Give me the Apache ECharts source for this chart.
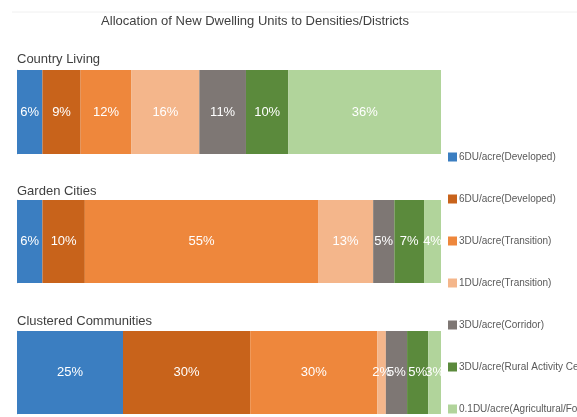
<!DOCTYPE html>
<html>
<head>
<meta charset="utf-8">
<script src="https://cdn.jsdelivr.net/npm/echarts@6/dist/echarts.min.js"></script>
<style>
  html, body { margin: 0; padding: 0; background: #ffffff; }
  #chart { width: 577px; height: 417px; }
</style>
</head>
<body>
<div id="chart"></div>
<script>
// Panels (one stacked 100% bar each)
const panelNames = ['Country Living', 'Garden Cities', 'Clustered Communities'];

// Density / district categories, in stacking order
const densityKeys = ['dev6a', 'dev6b', 'trans3', 'trans1', 'corr3', 'rural3', 'agri01'];
const densityLabels = [
  '6DU/acre(Developed)',
  '6DU/acre(Developed)',
  '3DU/acre(Transition)',
  '1DU/acre(Transition)',
  '3DU/acre(Corridor)',
  '3DU/acre(Rural Activity Center)',
  '0.1DU/acre(Agricultural/Forest)'
];
const densityColors = ['#3b7ec1', '#c8631b', '#ee873c', '#f4b68b', '#7e7774', '#5b8a3c', '#b1d49b'];

// Share of new dwelling units (%) per panel
const countryLiving = [6, 9, 12, 16, 11, 10, 36];
const gardenCities = [6, 10, 55, 13, 5, 7, 4];
const clusteredCommunities = [25, 30, 30, 2, 5, 5, 3];
const panelValues = [countryLiving, gardenCities, clusteredCommunities];

const FONT = "'Liberation Sans', Arial, sans-serif";

const gridBoxes = [
  { left: 17, width: 424, top: 70, height: 84 },
  { left: 17, width: 424, top: 200, height: 83 },
  { left: 17, width: 424, top: 331, height: 83 }
];
const panelTitleTops = [48, 180, 310];

const labelMap = {};
densityKeys.forEach((k, i) => { labelMap[k] = densityLabels[i]; });

const series = [];
panelValues.forEach((vals, p) => {
  densityKeys.forEach((key, i) => {
    series.push({
      type: 'bar',
      name: key,
      stack: 'panel' + p,
      xAxisIndex: p,
      yAxisIndex: p,
      barWidth: '100%',
      itemStyle: { color: densityColors[i] },
      label: {
        show: true,
        position: 'inside',
        formatter: '{c}%',
        color: '#ffffff',
        fontSize: 13,
        fontFamily: FONT
      },
      emphasis: { disabled: true },
      data: [vals[i]]
    });
  });
});

const chart = echarts.init(document.getElementById('chart'), null, { renderer: 'canvas' });
chart.setOption({
  animation: false,
  backgroundColor: '#ffffff',
  title: [
    {
      text: 'Allocation of New Dwelling Units to Densities/Districts',
      left: 250, top: 10, textAlign: 'center',
      textStyle: { fontSize: 13, fontWeight: 'normal', color: '#404040', fontFamily: FONT }
    }
  ].concat(panelNames.map((n, p) => ({
    text: n,
    left: 12, top: panelTitleTops[p],
    textStyle: { fontSize: 13, fontWeight: 'normal', color: '#404040', fontFamily: FONT }
  }))),
  legend: {
    orient: 'vertical',
    left: 443,
    top: 147,
    height: 320,
    itemWidth: 9,
    itemHeight: 9,
    itemGap: 32,
    icon: 'rect',
    selectedMode: false,
    data: densityKeys,
    formatter: name => labelMap[name],
    textStyle: { fontSize: 10, color: '#595959', fontFamily: FONT, padding: [0, 0, 0, -3] }
  },
  grid: gridBoxes.map(g => Object.assign({ containLabel: false }, g)),
  xAxis: gridBoxes.map((g, p) => ({
    type: 'value', gridIndex: p, min: 0, max: 100, show: false
  })),
  yAxis: gridBoxes.map((g, p) => ({
    type: 'category', gridIndex: p, data: [panelNames[p]],
    axisLine: { show: true, lineStyle: { color: '#d9d9d9' } },
    axisTick: { show: false },
    axisLabel: { show: false }
  })),
  graphic: [
    { type: 'line', shape: { x1: 12, y1: 12, x2: 577, y2: 12 }, style: { stroke: '#f0f0f0', lineWidth: 1 }, silent: true }
  ],
  series: series
});
</script>
</body>
</html>
